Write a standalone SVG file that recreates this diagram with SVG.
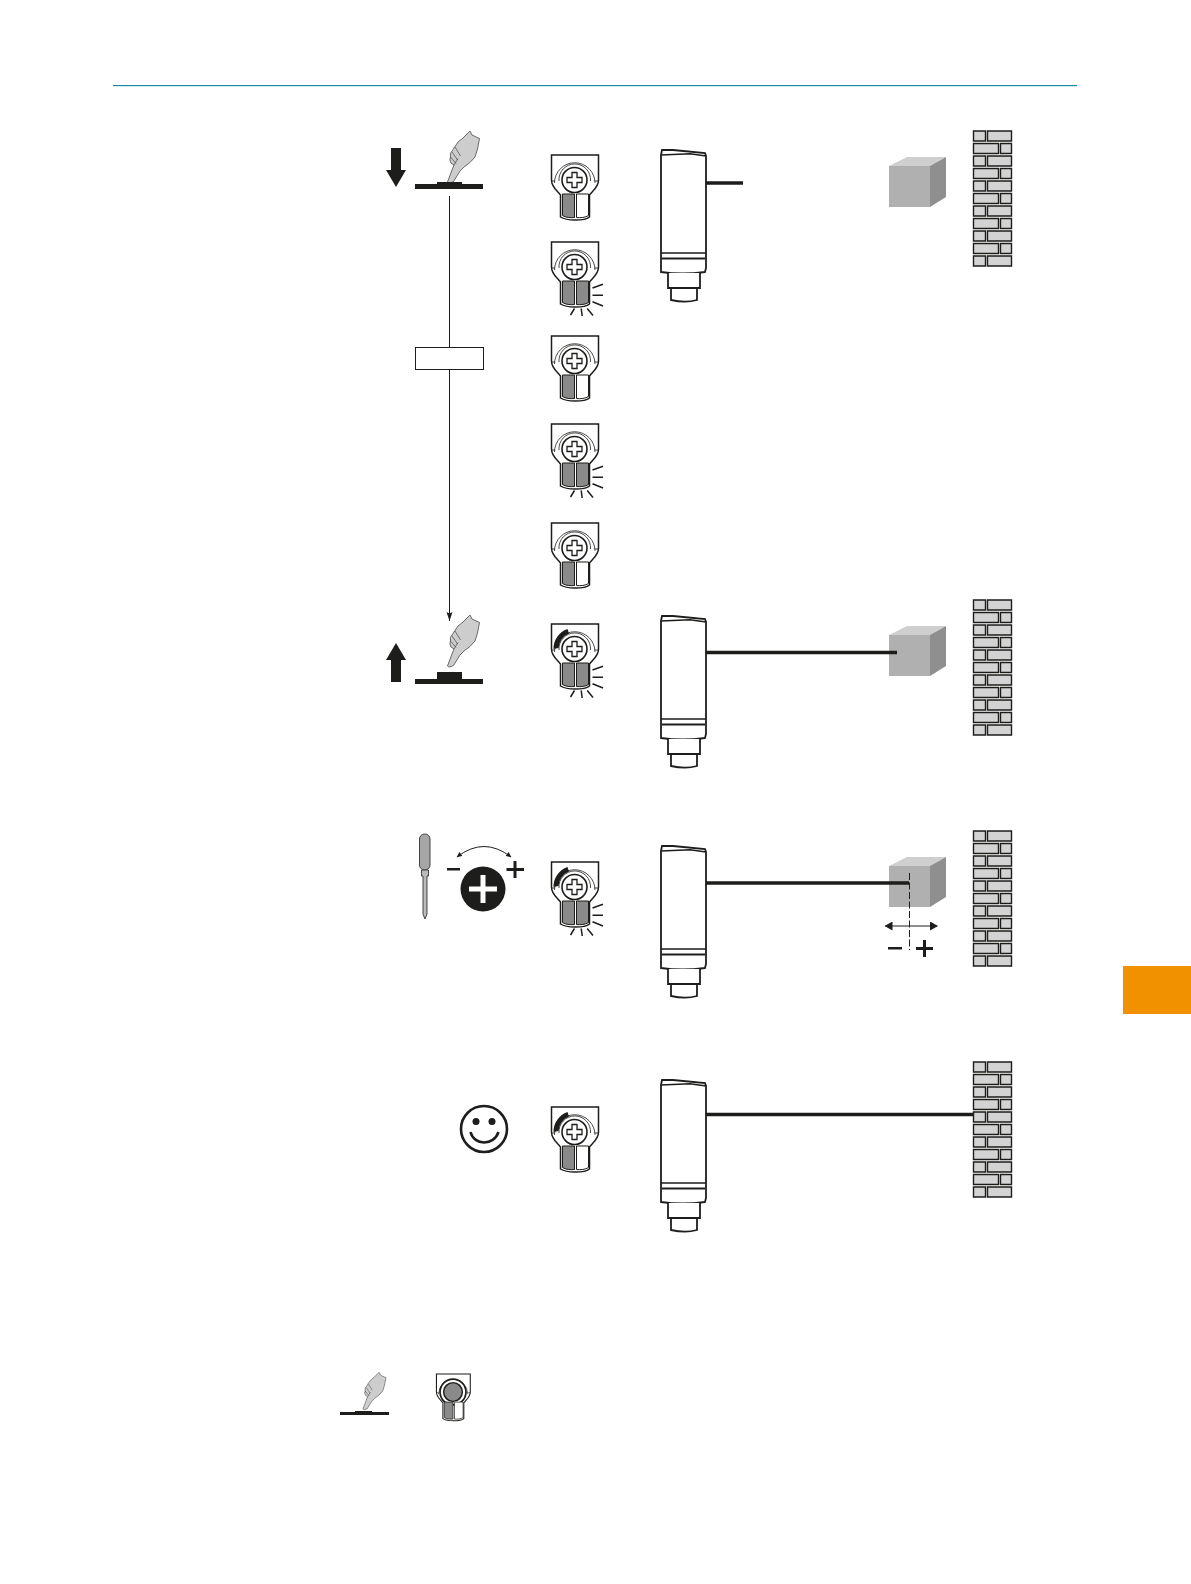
<svg xmlns="http://www.w3.org/2000/svg" width="1191" height="1584" viewBox="0 0 1191 1584">
<style>
.k{fill:#1d1d1b}
.o{fill:#fff;stroke:#1d1d1b;stroke-width:1.5}
.beam{stroke:#1d1d1b;stroke-width:3.4;fill:none}
.thin{stroke:#1d1d1b;stroke-width:1;fill:none}
.ring{stroke:#1d1d1b;stroke-width:.8;fill:none}
.brick{fill:#d4d3d3;stroke:#1d1d1b;stroke-width:1.4}
.hand{fill:#cdcdcd;stroke:#4a4a4a;stroke-width:.8}
.lamp{fill:#8a8a8a;stroke:#1d1d1b;stroke-width:1}
.off{fill:#fff;stroke:#1d1d1b;stroke-width:1}
.ray{stroke:#1d1d1b;stroke-width:1.5;fill:none}
</style>
<defs>
<marker id="ah" markerWidth="11" markerHeight="7" refX="10" refY="3.500" orient="auto" markerUnits="userSpaceOnUse"><path d="M1 .5L2.500 3.500L1 6.500L10 3.500Z" fill="#1d1d1b"/></marker>
<marker id="dbl" markerWidth="9" markerHeight="9" refX="7" refY="4.500" orient="auto-start-reverse" markerUnits="userSpaceOnUse"><path d="M0 0L8 4.500L0 9Z" fill="#1d1d1b"/></marker>
<marker id="sm" markerWidth="6" markerHeight="5" refX="5" refY="2.500" orient="auto-start-reverse" markerUnits="userSpaceOnUse"><path d="M0 0L5.500 2.500L0 5Z" fill="#1d1d1b"/></marker>
<g id="knobbase">
<path class="o" d="M-14 15C-18 10-23 7-23 0V-25H24V0C24 7 19 10 15 15V37C10 41-8 41-14 37Z"/>
<path class="ring" d="M-20 3A20.200 20.200 0 1 1 20.500 3M-15.500 1A15.800 15.800 0 1 1 16 1"/>
<path class="ring" d="M-23 1H-19.500M24 1H20"/>
<circle r="12.500" fill="#fff" stroke="#1d1d1b" stroke-width="1.600"/>
<path fill="#fff" stroke="#1d1d1b" stroke-width="1.300" d="M-2.500 -7.500H2.500V-2.500H7.500V2.500H2.500V7.500H-2.500V2.500H-7.500V-2.500H-2.500Z"/>
</g>
<g id="rays">
<path class="ray" d="M18 21L28.500 17.300M18 28.300H28.500M18 34.700L28.500 39M-4 48L0 41.500M6.700 41.500L7.700 49M12.700 41.500L18.500 48.500"/>
</g>
<g id="dial"><path d="M-21 0A21 21 0 0 1-7-20L-5.500-15.500A16.500 16.500 0 0 0-16-1Z" fill="#1d1d1b"/></g>
<g id="lampLdark"><path class="lamp" d="M-12 14H0V37.500C-4 38-9 37.500-12 35.500Z"/></g>
<g id="lampLoff"><path class="off" d="M-12 14H0V37.500C-4 38-9 37.500-12 35.500Z"/></g>
<g id="lampRdark"><path class="lamp" d="M2 14H14V35.500C11 37.500 6 38 2 37.500Z"/></g>
<g id="lampRoff"><path class="off" d="M2 14H14V35.500C11 37.500 6 38 2 37.500Z"/></g>
<g id="hand">
<path class="hand" d="M447.500 182L452 170L454 165L451 163Q449 160 450.500 157Q449.500 153 452 151L458 142L463 138L470 131L472 135L479.500 138.500L477.500 149L475 157L470 162.500L464 167L460 171L453.500 181.500Q449 184 447.500 182Z"/>
<path stroke="#444" stroke-width=".7" fill="none" d="M452 152L457.500 160M450.500 157L456 163.500M454 165L458 158.500M455 147L460.500 156"/>
</g>
<g id="sensor">
<path fill="#fff" stroke="#1d1d1b" stroke-width="1.800" d="M661 155L662 150H673L705 153L706 156V268L705 272C690 274 675 274 661 272Z"/>
<path stroke="#1d1d1b" stroke-width="1.400" fill="none" d="M661 155L690 153.800L706 156M661 253H706"/>
<path stroke="#1d1d1b" stroke-width="2" fill="none" d="M662 258.500H705"/>
<path fill="#fff" stroke="#1d1d1b" stroke-width="1.800" d="M668 273V288H700V273M671 288V300C680 302 690 302 697 300V288"/>
</g>
<g id="wall">
<path class="brick" d="M973.500 131h12v10h-12zM987.500 131h24v10h-24zM973.500 143.500h25v10h-25zM1000.500 143.500h11v10h-11zM973.500 156h12v10h-12zM987.500 156h24v10h-24zM973.500 168.500h25v10h-25zM1000.500 168.500h11v10h-11zM973.500 181h12v10h-12zM987.500 181h24v10h-24zM973.500 193.500h25v10h-25zM1000.500 193.500h11v10h-11zM973.500 206h12v10h-12zM987.500 206h24v10h-24zM973.500 218.500h25v10h-25zM1000.500 218.500h11v10h-11zM973.500 231h12v10h-12zM987.500 231h24v10h-24zM973.500 243.500h25v10h-25zM1000.500 243.500h11v10h-11zM973.500 256h12v10h-12zM987.500 256h24v10h-24z"/>
</g>
<g id="cube">
<path fill="#cfcfcf" d="M889 166L907 157H946L930 166Z"/>
<path fill="#b0b0b0" d="M889 166H930V207H889Z"/>
<path fill="#8f8f8f" d="M930 166L946 157V197L930 207Z"/>
</g>
</defs>

<rect id="header-rule" x="113" y="85" width="964" height="1.200" fill="#1b8b9e"/>
<rect id="tab" x="1123" y="966" width="68" height="48" fill="#f29100"/>

<g id="press-step">
<path class="k" d="M391 148H401V170H406L396 187L386 170H391Z"/>
<use href="#hand"/>
<path class="k" d="M415 184H483V189H415ZM437 182H462V184H437Z"/>
</g>
<rect id="timer-box" x="415.500" y="347.500" width="68" height="22" fill="#fff" stroke="#1d1d1b" stroke-width="1"/>
<g id="release-step">
<path class="k" d="M396 643L406 660H401V682H391V660H386Z"/>
<use href="#hand" y="484"/>
<path class="k" d="M415 679H483V684H415ZM437 672H462V679H437Z"/>
</g>

<g id="knob-1" transform="translate(574.500 180)"><use href="#knobbase"/><use href="#lampLdark"/><use href="#lampRoff"/></g>
<g id="knob-2" transform="translate(574.500 267)"><use href="#knobbase"/><use href="#lampLdark"/><use href="#lampRdark"/><use href="#rays"/></g>
<g id="knob-3" transform="translate(574.500 361)"><use href="#knobbase"/><use href="#lampLdark"/><use href="#lampRoff"/></g>
<g id="knob-4" transform="translate(574.500 449)"><use href="#knobbase"/><use href="#lampLdark"/><use href="#lampRdark"/><use href="#rays"/></g>
<g id="knob-5" transform="translate(574.500 548)"><use href="#knobbase"/><use href="#lampLdark"/><use href="#lampRoff"/></g>
<g id="knob-6" transform="translate(574.500 649)"><use href="#knobbase"/><use href="#dial"/><use href="#lampLdark"/><use href="#lampRdark"/><use href="#rays"/></g>
<g id="knob-7" transform="translate(574.500 887)"><use href="#knobbase"/><use href="#dial"/><use href="#lampLdark"/><use href="#lampRdark"/><use href="#rays"/></g>
<g id="knob-8" transform="translate(574.500 1132)"><use href="#knobbase"/><use href="#dial"/><use href="#lampLdark"/><use href="#lampRoff"/></g>

<g id="sensor-1"><use href="#sensor"/></g>
<g id="sensor-2"><use href="#sensor" y="466"/></g>
<g id="sensor-3"><use href="#sensor" y="696"/></g>
<g id="sensor-4"><use href="#sensor" y="930"/></g>

<g id="cube-1"><use href="#cube"/></g>
<g id="cube-2"><use href="#cube" y="469"/></g>
<g id="cube-3"><use href="#cube" y="700"/></g>

<g id="wall-1"><use href="#wall"/></g>
<g id="wall-2"><use href="#wall" y="469"/></g>
<g id="wall-3"><use href="#wall" y="700"/></g>
<g id="wall-4"><use href="#wall" y="931"/></g>

<g id="connectors">
<path class="thin" d="M449.500 196V347.500"/>
<path class="thin" d="M449.500 369.500V621" marker-end="url(#ah)"/>
<path class="beam" d="M706 183H743"/>
<path class="beam" d="M706 652.500H897"/>
<path class="beam" d="M706 883H909"/>
<path class="beam" d="M706 1114.500H973"/>
</g>

<g id="screwdriver">
<rect x="419.500" y="834" width="10.500" height="36" rx="5" fill="#a6a6a6" stroke="#444"/>
<path d="M421.500 870H428.500V876H427V914L425 919L423 914V876H421.500Z" fill="#bbb" stroke="#333" stroke-width=".9"/>
</g>
<g id="adjust-dial">
<circle cx="483" cy="889" r="22.500" fill="#1d1d1b"/>
<path d="M469 886.500H480.500V875H485.500V886.500H497V891.500H485.500V903H480.500V891.500H469Z" fill="#fff"/>
<path class="thin" d="M457 857Q484 836 511 857" marker-start="url(#sm)" marker-end="url(#sm)"/>
<path class="k" d="M447 868H460V870.500H447ZM513.500 861H516.500V868H524V871H516.500V878H513.500V871H506.500V868H513.500Z"/>
</g>
<g id="distance-adjust">
<path class="thin" stroke-width="1.200" stroke-dasharray="7 2.500" d="M909.500 873V950"/>
<path class="thin" d="M885.500 926H937" marker-start="url(#dbl)" marker-end="url(#dbl)"/>
<path class="k" d="M888 947H902V949.500H888ZM923 940H926V947H933V950H926V957H923V950H916V947H923Z"/>
</g>
<g id="smiley">
<circle cx="484" cy="1129" r="23" fill="#fff" stroke="#1d1d1b" stroke-width="2.600"/>
<circle cx="476" cy="1121.500" r="3.500" fill="#1d1d1b"/><circle cx="492" cy="1121.500" r="3.500" fill="#1d1d1b"/>
<path d="M470.500 1132C474 1146 494 1146 498.500 1132" fill="none" stroke="#1d1d1b" stroke-width="2.600"/>
</g>
<g id="lock-press">
<use href="#hand" transform="translate(364 1409) scale(.72) translate(-449 -182)"/>
<rect x="340" y="1412" width="49" height="3" fill="#1d1d1b"/><rect x="355" y="1411" width="17" height="1" fill="#1d1d1b"/>
</g>
<g id="lock-knob" transform="translate(453 1392) scale(.72)">
<use href="#knobbase"/><circle r="18" fill="#fff" stroke="#1d1d1b" stroke-width="2.400"/><circle r="13" fill="#8a8a8a" stroke="#1d1d1b" stroke-width="2"/><use href="#lampLdark"/><use href="#lampRoff"/>
</g>
</svg>
